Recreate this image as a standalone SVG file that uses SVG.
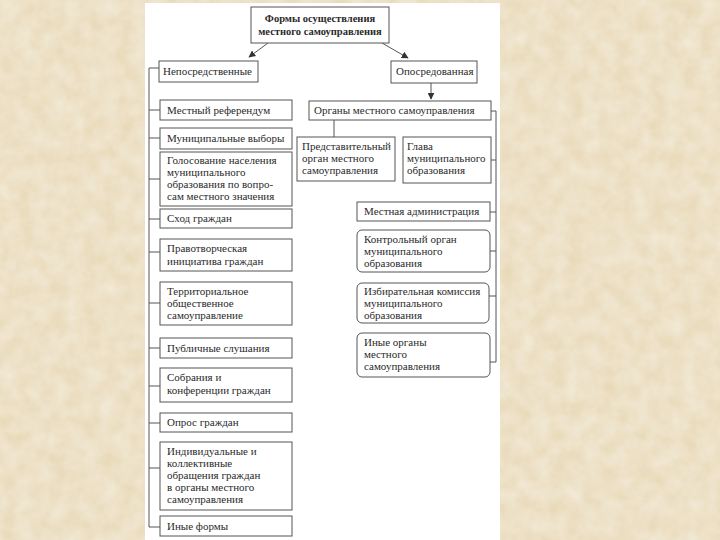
<svg xmlns="http://www.w3.org/2000/svg" width="720" height="540" viewBox="0 0 720 540">
<defs>
<filter id="paper" x="0" y="0" width="100%" height="100%">
<feTurbulence type="fractalNoise" baseFrequency="0.06" numOctaves="3" seed="4" result="n"/>
<feColorMatrix in="n" type="matrix" values="0 0 0 0 0.91  0 0 0 0 0.85  0 0 0 0 0.72  0 0 0 -0.9 0.9" result="c"/>
<feComposite in="c" in2="SourceGraphic" operator="over"/>
</filter>
<marker id="ah" viewBox="0 0 10 10" refX="9" refY="5" markerWidth="7" markerHeight="7" orient="auto" markerUnits="userSpaceOnUse">
<path d="M0,0 L10,5 L0,10 Z" fill="#333"/>
</marker>
<style>
.b{fill:#fff;stroke:#555;stroke-width:1}
.t{font-family:"Liberation Serif","Times New Roman",serif;font-size:11px;fill:#2a2a2a}
.tb{font-family:"Liberation Serif","Times New Roman",serif;font-size:10.5px;font-weight:bold;fill:#2a2a2a}
.c{fill:none;stroke:#555;stroke-width:1}
</style>
</defs>
<rect width="720" height="540" fill="#e6d6b2"/>
<rect width="720" height="540" fill="#e6d6b2" filter="url(#paper)"/>
<rect x="145" y="3" width="355" height="537" fill="#fff"/>

<g id="connectors">
<line class="c" x1="268" y1="43" x2="249" y2="57" marker-end="url(#ah)"/>
<line class="c" x1="382" y1="43" x2="408" y2="58" marker-end="url(#ah)"/>
<line class="c" x1="431" y1="83" x2="431" y2="99" marker-end="url(#ah)"/>
<polyline class="c" points="159,68 149,68 149,527 160,527"/>
<line class="c" x1="149" y1="110" x2="160" y2="110"/>
<line class="c" x1="149" y1="138" x2="160" y2="138"/>
<line class="c" x1="149" y1="179" x2="160" y2="179"/>
<line class="c" x1="149" y1="219" x2="160" y2="219"/>
<line class="c" x1="149" y1="252" x2="160" y2="252"/>
<line class="c" x1="149" y1="303" x2="160" y2="303"/>
<line class="c" x1="149" y1="348" x2="160" y2="348"/>
<line class="c" x1="149" y1="386" x2="160" y2="386"/>
<line class="c" x1="149" y1="423" x2="160" y2="423"/>
<line class="c" x1="149" y1="468" x2="160" y2="468"/>
<line class="c" x1="334" y1="120" x2="334" y2="137"/>
<polyline class="c" points="491,111 496,111 496,362 490,362"/>
<line class="c" x1="491" y1="160" x2="496" y2="160"/>
<line class="c" x1="490" y1="212" x2="496" y2="212"/>
<line class="c" x1="490" y1="251" x2="496" y2="251"/>
<line class="c" x1="489" y1="296" x2="496" y2="296"/>
</g>

<g id="title">
<rect class="b" x="251" y="7" width="138" height="36"/>
<text class="tb" x="320" y="22" text-anchor="middle">Формы осуществления</text>
<text class="tb" x="320" y="35" text-anchor="middle">местного самоуправления</text>
</g>
<g id="direct">
<rect class="b" x="159" y="61" width="99" height="21"/>
<text class="t" x="163" y="75">Непосредственные</text>
</g>
<g id="mediated">
<rect class="b" x="391" y="61" width="86" height="22"/>
<text class="t" x="396" y="75">Опосредованная</text>
</g>

<g id="referendum">
<rect class="b" x="160" y="100" width="132" height="20"/>
<text class="t" x="167" y="114">Местный референдум</text>
</g>
<g id="elections">
<rect class="b" x="160" y="128" width="132" height="21"/>
<text class="t" x="167" y="142">Муниципальные выборы</text>
</g>
<g id="voting">
<rect class="b" x="160" y="152" width="132" height="54"/>
<text class="t" x="167" y="164">Голосование населения</text>
<text class="t" x="167" y="176">муниципального</text>
<text class="t" x="167" y="188">образования по вопро-</text>
<text class="t" x="167" y="200">сам местного значения</text>
</g>
<g id="gathering">
<rect class="b" x="160" y="209" width="132" height="19"/>
<text class="t" x="167" y="222">Сход граждан</text>
</g>
<g id="initiative">
<rect class="b" x="160" y="239" width="132" height="32"/>
<text class="t" x="167" y="252">Правотворческая</text>
<text class="t" x="167" y="265">инициатива граждан</text>
</g>
<g id="territorial">
<rect class="b" x="160" y="282" width="132" height="43"/>
<text class="t" x="167" y="295">Территориальное</text>
<text class="t" x="167" y="307">общественное</text>
<text class="t" x="167" y="319">самоуправление</text>
</g>
<g id="hearings">
<rect class="b" x="160" y="338" width="132" height="20"/>
<text class="t" x="167" y="352">Публичные слушания</text>
</g>
<g id="meetings">
<rect class="b" x="160" y="368" width="132" height="34"/>
<text class="t" x="167" y="381">Собрания и</text>
<text class="t" x="167" y="394">конференции граждан</text>
</g>
<g id="poll">
<rect class="b" x="160" y="413" width="132" height="19"/>
<text class="t" x="167" y="426">Опрос граждан</text>
</g>
<g id="appeals">
<rect class="b" x="160" y="442" width="132" height="68"/>
<text class="t" x="167" y="455">Индивидуальные и</text>
<text class="t" x="167" y="467">коллективные</text>
<text class="t" x="167" y="479">обращения граждан</text>
<text class="t" x="167" y="491">в органы местного</text>
<text class="t" x="167" y="503">самоуправления</text>
</g>
<g id="other-forms">
<rect class="b" x="160" y="516" width="132" height="20"/>
<text class="t" x="167" y="530">Иные формы</text>
</g>

<g id="organs">
<rect class="b" x="309" y="101" width="182" height="19"/>
<text class="t" x="314" y="114">Органы местного самоуправления</text>
</g>
<g id="representative">
<rect class="b" x="297" y="137" width="98" height="44"/>
<text class="t" x="302" y="150">Представительный</text>
<text class="t" x="302" y="162">орган местного</text>
<text class="t" x="302" y="174">самоуправления</text>
</g>
<g id="head">
<rect class="b" x="403" y="137" width="88" height="46"/>
<text class="t" x="407" y="150">Глава</text>
<text class="t" x="407" y="162">муниципального</text>
<text class="t" x="407" y="174">образования</text>
</g>
<g id="administration">
<rect class="b" x="357" y="202" width="133" height="19"/>
<text class="t" x="364" y="215">Местная администрация</text>
</g>
<g id="control">
<rect class="b" x="357" y="230" width="133" height="42" rx="5"/>
<text class="t" x="364" y="243">Контрольный орган</text>
<text class="t" x="364" y="255">муниципального</text>
<text class="t" x="364" y="267">образования</text>
</g>
<g id="electoral">
<rect class="b" x="357" y="283" width="132" height="40" rx="5"/>
<text class="t" x="364" y="295">Избирательная комиссия</text>
<text class="t" x="364" y="307">муниципального</text>
<text class="t" x="364" y="319">образования</text>
</g>
<g id="other-organs">
<rect class="b" x="357" y="333" width="133" height="44" rx="5"/>
<text class="t" x="364" y="346">Иные органы</text>
<text class="t" x="364" y="358">местного</text>
<text class="t" x="364" y="370">самоуправления</text>
</g>
</svg>
